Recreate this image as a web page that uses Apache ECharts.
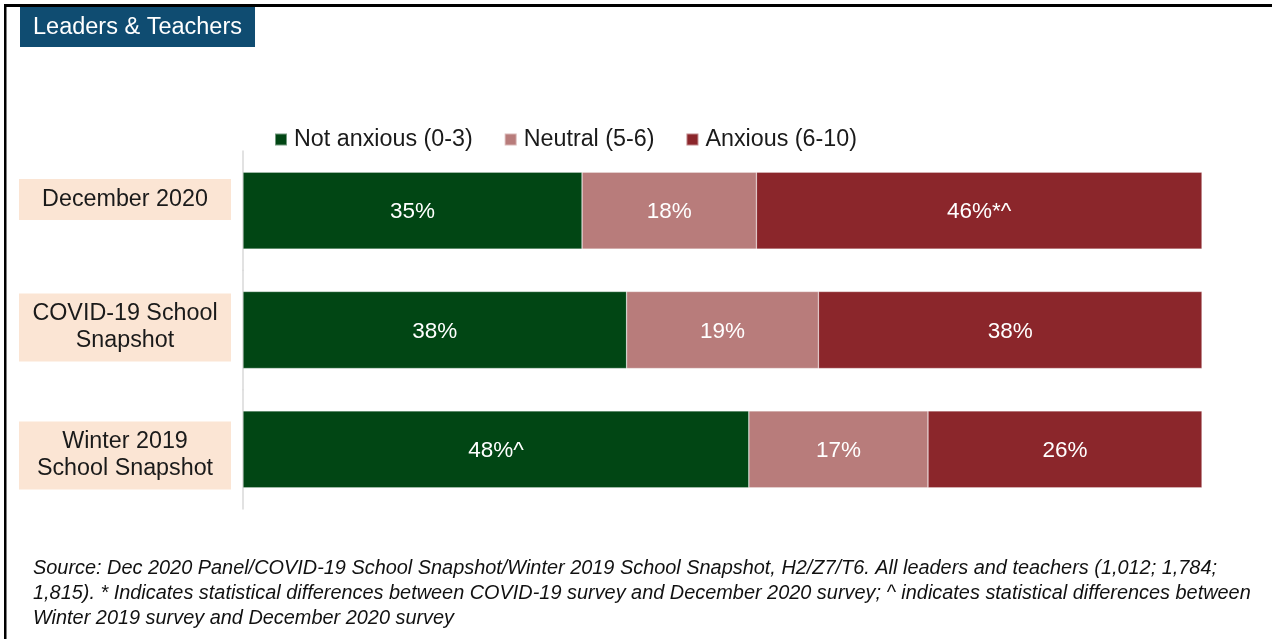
<!DOCTYPE html>
<html>
<head>
<meta charset="utf-8">
<title>Leaders & Teachers</title>
<script src="https://cdn.jsdelivr.net/npm/echarts@6/dist/echarts.min.js"></script>
<style>
  html, body { margin: 0; padding: 0; background: #ffffff; }
  #chart { width: 1272px; height: 639px; }
</style>
</head>
<body>
<div id="chart"></div>
<script>
// Survey waves (top to bottom) and the share of respondents in each anxiety band
const categories = ['December 2020', 'COVID-19 School\nSnapshot', 'Winter 2019\nSchool Snapshot'];
const seriesNames = ['Not anxious (0-3)', 'Neutral (5-6)', 'Anxious (6-10)'];
const notAnxious = [35, 38, 48];
const neutral = [18, 19, 17];
const anxious = [46, 38, 26];
// Significance markers appended to the value labels
const notAnxiousMarks = ['', '', '^'];
const neutralMarks = ['', '', ''];
const anxiousMarks = ['*^', '', ''];

const colors = ['#014614', '#b87c7b', '#8b262b'];
const FONT = '"Liberation Sans", Arial, sans-serif';

const sourceNote =
  'Source: Dec 2020 Panel/COVID-19 School Snapshot/Winter 2019 School Snapshot, H2/Z7/T6. All leaders and teachers (1,012; 1,784;\n' +
  '1,815). * Indicates statistical differences between COVID-19 survey and December 2020 survey; ^ indicates statistical differences between\n' +
  'Winter 2019 survey and December 2020 survey';

const values = [notAnxious, neutral, anxious];
const marks = [notAnxiousMarks, neutralMarks, anxiousMarks];

// One grid per survey wave so each bar spans its own row total
const rowTop = 151;
const rowHeight = 119.33;
const grids = [];
const xAxes = [];
const yAxes = [];
const series = [];

categories.forEach((cat, i) => {
  const total = values.reduce((s, arr) => s + arr[i], 0);
  grids.push({ left: 243, right: 70, top: rowTop + i * rowHeight, height: rowHeight });
  xAxes.push({ type: 'value', gridIndex: i, min: 0, max: total, show: false });
  yAxes.push({
    type: 'category', gridIndex: i, data: [cat],
    axisLine: { show: true, lineStyle: { color: '#d9d9d9', width: 1.5 } },
    axisTick: { show: false },
    axisLabel: { show: false },
    splitLine: { show: false }
  });
  seriesNames.forEach((name, k) => {
    series.push({
      name: name,
      type: 'bar',
      xAxisIndex: i,
      yAxisIndex: i,
      stack: 'row' + i,
      barWidth: 77,
      itemStyle: { color: colors[k], borderColor: 'rgba(255,255,255,0.45)', borderWidth: 0.6 },
      label: {
        show: true,
        position: 'inside',
        color: '#ffffff',
        fontFamily: FONT,
        fontSize: 22.5,
        offset: [0, 1.5],
        formatter: () => values[k][i] + '%' + marks[k][i]
      },
      emphasis: { disabled: true },
      data: [values[k][i]]
    });
  });
});

// Overlay grid carrying the shaded category labels
grids.push({ left: 243, right: 70, top: 135.5, height: 384 });
xAxes.push({ type: 'value', gridIndex: 3, show: false });
yAxes.push({
  type: 'category', gridIndex: 3, data: categories, inverse: true,
  axisLine: { show: false }, axisTick: { show: false }, splitLine: { show: false },
  axisLabel: {
    margin: 12,
    backgroundColor: '#fbe5d4',
    padding: [7, 0, 7, 0],
    formatter: v => v.split('\n').map(s => '{t|' + s + '}').join('\n'),
    rich: {
      t: { width: 212, align: 'center', fontFamily: FONT, fontSize: 23.3, lineHeight: 27, color: '#1a1a1a' }
    }
  }
});

const chart = echarts.init(document.getElementById('chart'), null, { renderer: 'canvas' });
chart.setOption({
  animation: false,
  backgroundColor: '#ffffff',
  title: {
    text: 'Leaders & Teachers',
    left: 20,
    top: 7,
    padding: [9, 13, 7, 13],
    backgroundColor: '#0f4c71',
    textStyle: { color: '#ffffff', fontFamily: FONT, fontSize: 23.5, fontWeight: 'normal', lineHeight: 24 }
  },
  legend: {
    data: seriesNames,
    left: 269,
    top: 123,
    icon: 'rect',
    itemWidth: 12,
    itemHeight: 12,
    itemGap: 31,
    textStyle: { color: '#1a1a1a', fontFamily: FONT, fontSize: 23.3, padding: [0, 0, 0, 2] },
    selectedMode: false
  },
  grid: grids,
  xAxis: xAxes,
  yAxis: yAxes,
  series: series,
  graphic: [
    { type: 'rect', shape: { x: 4, y: 4, width: 1268, height: 3 }, style: { fill: '#000000' }, silent: true },
    { type: 'rect', shape: { x: 4, y: 4, width: 2.5, height: 635 }, style: { fill: '#000000' }, silent: true },
    {
      type: 'text', left: 33, top: 556, silent: true,
      style: {
        text: sourceNote,
        fill: '#111111',
        font: 'italic 19.9px ' + FONT,
        lineHeight: 25
      }
    }
  ]
});
</script>
</body>
</html>
